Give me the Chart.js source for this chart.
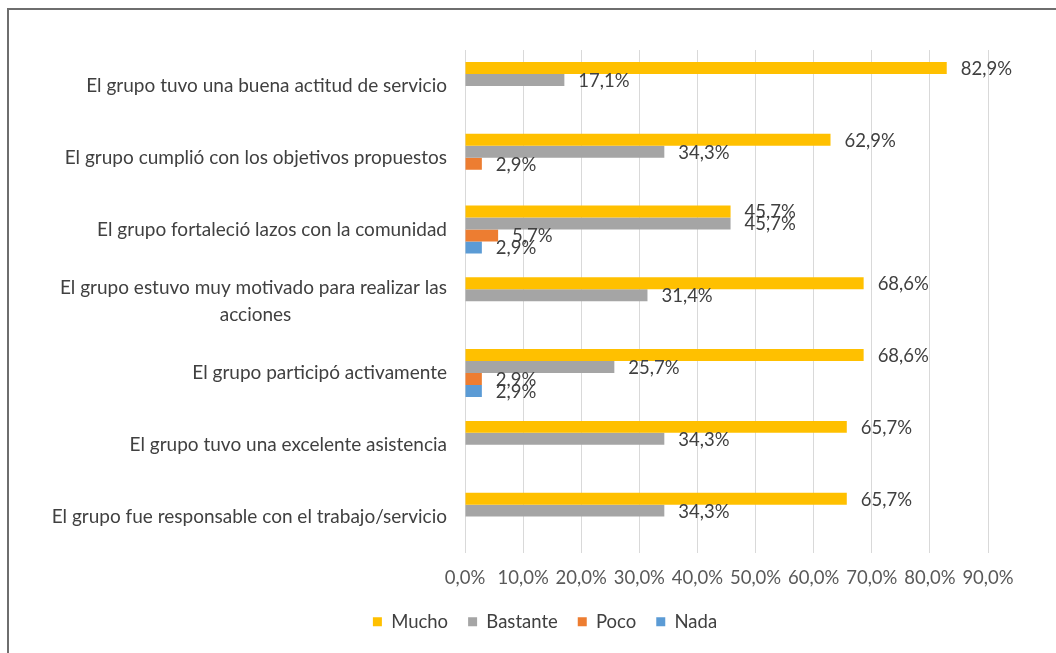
<!DOCTYPE html>
<html>
<head>
<meta charset="utf-8">
<script src="https://cdn.jsdelivr.net/npm/chart.js@4"></script>
<style>
  html, body { margin: 0; padding: 0; background: #fff; }
  #wrap { position: relative; width: 1056px; height: 653px; overflow: hidden; }
  #frame { position: absolute; left: 7px; top: 8px; width: 1100px; height: 700px;
           border-left: 2px solid #6e6e6e; border-top: 2px solid #6e6e6e; }
  canvas { position: absolute; left: 0; top: 0; }
</style>
</head>
<body>
<div id="wrap">
  <div id="frame"></div>
  <canvas id="grafico" width="1056" height="653"></canvas>
</div>
<script>
// Datos
const categorias = [
  'El grupo tuvo una buena actitud de servicio',
  'El grupo cumplió con los objetivos propuestos',
  'El grupo fortaleció lazos con la comunidad',
  ['El grupo estuvo muy motivado para realizar las', 'acciones'],
  'El grupo participó activamente',
  'El grupo tuvo una excelente asistencia',
  'El grupo fue responsable con el trabajo/servicio'
];
const mucho    = [82.9, 62.9, 45.7, 68.6, 68.6, 65.7, 65.7];
const bastante = [17.1, 34.3, 45.7, 31.4, 25.7, 34.3, 34.3];
const poco     = [0, 2.9, 5.7, 0, 2.9, 0, 0];
const nada     = [0, 0, 2.9, 0, 2.9, 0, 0];
const ticksEje = [0, 10, 20, 30, 40, 50, 60, 70, 80, 90];

const FUENTE = 'Lato, "Liberation Sans", sans-serif';
const TAM = 18.5;
const TAM_CAT = 19;

function formato(v) {
  return v.toFixed(1).replace('.', ',') + '%';
}

// medir texto para centrar las líneas de etiquetas largas
const medidor = document.createElement('canvas').getContext('2d');
medidor.font = TAM_CAT + 'px ' + FUENTE;
function centrarLineas(etiqueta) {
  if (!Array.isArray(etiqueta)) return etiqueta;
  const anchos = etiqueta.map(t => medidor.measureText(t).width);
  const maximo = Math.max(...anchos);
  const espacio = medidor.measureText(' ').width;
  return etiqueta.map((t, i) => t + ' '.repeat(Math.round((maximo - anchos[i]) / 2 / espacio)));
}

// etiquetas de valor al final de cada barra
const etiquetasValor = {
  id: 'etiquetasValor',
  afterDatasetsDraw(chart) {
    const ctx = chart.ctx;
    ctx.save();
    ctx.font = TAM + 'px ' + FUENTE;
    ctx.fillStyle = '#404040';
    ctx.textAlign = 'left';
    ctx.textBaseline = 'middle';
    chart.data.datasets.forEach((ds, i) => {
      const meta = chart.getDatasetMeta(i);
      meta.data.forEach((barra, j) => {
        const v = ds.data[j];
        if (!v) return;
        ctx.fillText(formato(v), barra.x + 14, barra.y + 1);
      });
    });
    ctx.restore();
  }
};

// desplazar la leyenda para centrarla como en el original
const moverLeyenda = {
  id: 'moverLeyenda',
  afterLayout(chart) {
    const dx = 51;
    chart.legend.left += dx;
    chart.legend.right += dx;
  }
};

document.addEventListener('DOMContentLoaded', () => {
  const ctx = document.getElementById('grafico').getContext('2d');
  new Chart(ctx, {
    type: 'bar',
    data: {
      labels: categorias,
      datasets: [
        { label: 'Mucho', data: mucho, backgroundColor: '#FFC000' },
        { label: 'Bastante', data: bastante, backgroundColor: '#A5A5A5' },
        { label: 'Poco', data: poco, backgroundColor: '#ED7D31' },
        { label: 'Nada', data: nada, backgroundColor: '#5B9BD5' }
      ]
    },
    options: {
      indexAxis: 'y',
      responsive: false,
      animation: false,
      devicePixelRatio: 1,
      categoryPercentage: 0.667,
      barPercentage: 1.0,
      layout: { padding: { top: 50, right: 68, bottom: 12, left: 0 } },
      scales: {
        x: {
          min: 0,
          max: 90,
          afterBuildTicks(scale) {
            scale.ticks = ticksEje.map(v => ({ value: v }));
          },
          afterFit(scale) { scale.height = 40; },
          grid: { color: '#d9d9d9', drawTicks: false },
          border: { display: false },
          ticks: {
            padding: 14,
            color: '#595959',
            font: { family: FUENTE, size: TAM },
            callback: v => formato(v)
          }
        },
        y: {
          afterFit(scale) { scale.width = 465; },
          grid: { display: false, drawTicks: false },
          border: { display: false },
          ticks: {
            padding: 18,
            color: '#404040',
            font: { family: FUENTE, size: TAM_CAT, lineHeight: 1.45 },
            callback(value, index) { return centrarLineas(categorias[index]); }
          }
        }
      },
      plugins: {
        legend: {
          position: 'bottom',
          labels: {
            boxWidth: 9,
            boxHeight: 9,
            padding: 20,
            color: '#404040',
            font: { family: FUENTE, size: TAM }
          }
        },
        tooltip: { enabled: false }
      }
    },
    plugins: [etiquetasValor, moverLeyenda]
  });
});
</script>
</body>
</html>
